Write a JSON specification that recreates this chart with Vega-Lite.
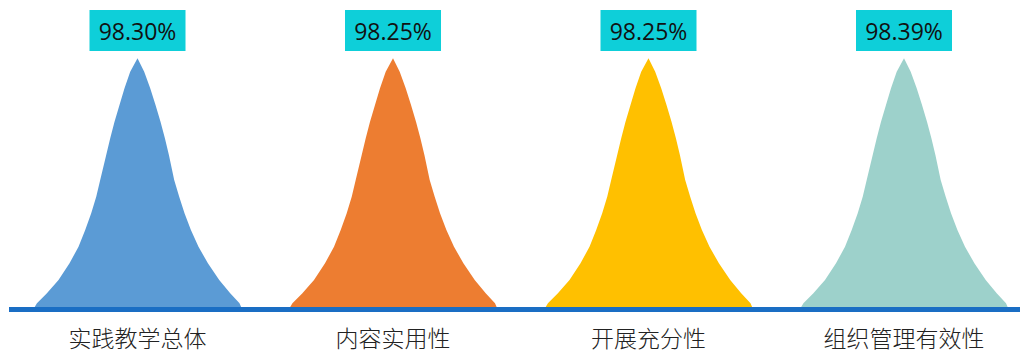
{
  "$schema": "https://vega.github.io/schema/vega-lite/v6.json",
  "width": 1020,
  "height": 351,
  "padding": 0,
  "autosize": {"type": "none"},
  "background": "white",
  "view": {"stroke": null},
  "config": {"axis": {"disable": true}},
  "datasets": {
    "curves": [
      {"cat": "实践教学总体", "x": 0.0918, "h": 0},
      {"cat": "实践教学总体", "x": 0.1063, "h": 2.47},
      {"cat": "实践教学总体", "x": 0.1454, "h": 6.45},
      {"cat": "实践教学总体", "x": 0.1908, "h": 11.74},
      {"cat": "实践教学总体", "x": 0.2339, "h": 18.39},
      {"cat": "实践教学总体", "x": 0.2691, "h": 25.0},
      {"cat": "实践教学总体", "x": 0.2953, "h": 31.65},
      {"cat": "实践教学总体", "x": 0.3188, "h": 38.3},
      {"cat": "实践教学总体", "x": 0.3384, "h": 44.9},
      {"cat": "实践教学总体", "x": 0.3540, "h": 51.55},
      {"cat": "实践教学总体", "x": 0.3775, "h": 61.5},
      {"cat": "实践教学总体", "x": 0.3932, "h": 68.15},
      {"cat": "实践教学总体", "x": 0.4100, "h": 74.76},
      {"cat": "实践教学总体", "x": 0.4295, "h": 81.41},
      {"cat": "实践教学总体", "x": 0.4491, "h": 88.06},
      {"cat": "实践教学总体", "x": 0.4714, "h": 94.67},
      {"cat": "实践教学总体", "x": 0.5, "h": 100},
      {"cat": "实践教学总体", "x": 0.5262, "h": 94.67},
      {"cat": "实践教学总体", "x": 0.5497, "h": 88.06},
      {"cat": "实践教学总体", "x": 0.5705, "h": 81.41},
      {"cat": "实践教学总体", "x": 0.5900, "h": 74.76},
      {"cat": "实践教学总体", "x": 0.6072, "h": 68.15},
      {"cat": "实践教学总体", "x": 0.6229, "h": 61.5},
      {"cat": "实践教学总体", "x": 0.6436, "h": 51.55},
      {"cat": "实践教学总体", "x": 0.6632, "h": 44.9},
      {"cat": "实践教学总体", "x": 0.6840, "h": 38.3},
      {"cat": "实践教学总体", "x": 0.7090, "h": 31.65},
      {"cat": "实践教学总体", "x": 0.7387, "h": 25.0},
      {"cat": "实践教学总体", "x": 0.7755, "h": 18.39},
      {"cat": "实践教学总体", "x": 0.8198, "h": 11.74},
      {"cat": "实践教学总体", "x": 0.8628, "h": 6.45},
      {"cat": "实践教学总体", "x": 0.8992, "h": 2.47},
      {"cat": "实践教学总体", "x": 0.9098, "h": 0},

      {"cat": "内容实用性", "x": 1.0918, "h": 0},
      {"cat": "内容实用性", "x": 1.1063, "h": 2.47},
      {"cat": "内容实用性", "x": 1.1454, "h": 6.45},
      {"cat": "内容实用性", "x": 1.1908, "h": 11.74},
      {"cat": "内容实用性", "x": 1.2339, "h": 18.39},
      {"cat": "内容实用性", "x": 1.2691, "h": 25.0},
      {"cat": "内容实用性", "x": 1.2953, "h": 31.65},
      {"cat": "内容实用性", "x": 1.3188, "h": 38.3},
      {"cat": "内容实用性", "x": 1.3384, "h": 44.9},
      {"cat": "内容实用性", "x": 1.3540, "h": 51.55},
      {"cat": "内容实用性", "x": 1.3775, "h": 61.5},
      {"cat": "内容实用性", "x": 1.3932, "h": 68.15},
      {"cat": "内容实用性", "x": 1.4100, "h": 74.76},
      {"cat": "内容实用性", "x": 1.4295, "h": 81.41},
      {"cat": "内容实用性", "x": 1.4491, "h": 88.06},
      {"cat": "内容实用性", "x": 1.4714, "h": 94.67},
      {"cat": "内容实用性", "x": 1.5, "h": 100},
      {"cat": "内容实用性", "x": 1.5262, "h": 94.67},
      {"cat": "内容实用性", "x": 1.5497, "h": 88.06},
      {"cat": "内容实用性", "x": 1.5705, "h": 81.41},
      {"cat": "内容实用性", "x": 1.5900, "h": 74.76},
      {"cat": "内容实用性", "x": 1.6072, "h": 68.15},
      {"cat": "内容实用性", "x": 1.6229, "h": 61.5},
      {"cat": "内容实用性", "x": 1.6436, "h": 51.55},
      {"cat": "内容实用性", "x": 1.6632, "h": 44.9},
      {"cat": "内容实用性", "x": 1.6840, "h": 38.3},
      {"cat": "内容实用性", "x": 1.7090, "h": 31.65},
      {"cat": "内容实用性", "x": 1.7387, "h": 25.0},
      {"cat": "内容实用性", "x": 1.7755, "h": 18.39},
      {"cat": "内容实用性", "x": 1.8198, "h": 11.74},
      {"cat": "内容实用性", "x": 1.8628, "h": 6.45},
      {"cat": "内容实用性", "x": 1.8992, "h": 2.47},
      {"cat": "内容实用性", "x": 1.9098, "h": 0},

      {"cat": "开展充分性", "x": 2.0918, "h": 0},
      {"cat": "开展充分性", "x": 2.1063, "h": 2.47},
      {"cat": "开展充分性", "x": 2.1454, "h": 6.45},
      {"cat": "开展充分性", "x": 2.1908, "h": 11.74},
      {"cat": "开展充分性", "x": 2.2339, "h": 18.39},
      {"cat": "开展充分性", "x": 2.2691, "h": 25.0},
      {"cat": "开展充分性", "x": 2.2953, "h": 31.65},
      {"cat": "开展充分性", "x": 2.3188, "h": 38.3},
      {"cat": "开展充分性", "x": 2.3384, "h": 44.9},
      {"cat": "开展充分性", "x": 2.3540, "h": 51.55},
      {"cat": "开展充分性", "x": 2.3775, "h": 61.5},
      {"cat": "开展充分性", "x": 2.3932, "h": 68.15},
      {"cat": "开展充分性", "x": 2.4100, "h": 74.76},
      {"cat": "开展充分性", "x": 2.4295, "h": 81.41},
      {"cat": "开展充分性", "x": 2.4491, "h": 88.06},
      {"cat": "开展充分性", "x": 2.4714, "h": 94.67},
      {"cat": "开展充分性", "x": 2.5, "h": 100},
      {"cat": "开展充分性", "x": 2.5262, "h": 94.67},
      {"cat": "开展充分性", "x": 2.5497, "h": 88.06},
      {"cat": "开展充分性", "x": 2.5705, "h": 81.41},
      {"cat": "开展充分性", "x": 2.5900, "h": 74.76},
      {"cat": "开展充分性", "x": 2.6072, "h": 68.15},
      {"cat": "开展充分性", "x": 2.6229, "h": 61.5},
      {"cat": "开展充分性", "x": 2.6436, "h": 51.55},
      {"cat": "开展充分性", "x": 2.6632, "h": 44.9},
      {"cat": "开展充分性", "x": 2.6840, "h": 38.3},
      {"cat": "开展充分性", "x": 2.7090, "h": 31.65},
      {"cat": "开展充分性", "x": 2.7387, "h": 25.0},
      {"cat": "开展充分性", "x": 2.7755, "h": 18.39},
      {"cat": "开展充分性", "x": 2.8198, "h": 11.74},
      {"cat": "开展充分性", "x": 2.8628, "h": 6.45},
      {"cat": "开展充分性", "x": 2.8992, "h": 2.47},
      {"cat": "开展充分性", "x": 2.9098, "h": 0},

      {"cat": "组织管理有效性", "x": 3.0918, "h": 0},
      {"cat": "组织管理有效性", "x": 3.1063, "h": 2.47},
      {"cat": "组织管理有效性", "x": 3.1454, "h": 6.45},
      {"cat": "组织管理有效性", "x": 3.1908, "h": 11.74},
      {"cat": "组织管理有效性", "x": 3.2339, "h": 18.39},
      {"cat": "组织管理有效性", "x": 3.2691, "h": 25.0},
      {"cat": "组织管理有效性", "x": 3.2953, "h": 31.65},
      {"cat": "组织管理有效性", "x": 3.3188, "h": 38.3},
      {"cat": "组织管理有效性", "x": 3.3384, "h": 44.9},
      {"cat": "组织管理有效性", "x": 3.3540, "h": 51.55},
      {"cat": "组织管理有效性", "x": 3.3775, "h": 61.5},
      {"cat": "组织管理有效性", "x": 3.3932, "h": 68.15},
      {"cat": "组织管理有效性", "x": 3.4100, "h": 74.76},
      {"cat": "组织管理有效性", "x": 3.4295, "h": 81.41},
      {"cat": "组织管理有效性", "x": 3.4491, "h": 88.06},
      {"cat": "组织管理有效性", "x": 3.4714, "h": 94.67},
      {"cat": "组织管理有效性", "x": 3.5, "h": 100},
      {"cat": "组织管理有效性", "x": 3.5262, "h": 94.67},
      {"cat": "组织管理有效性", "x": 3.5497, "h": 88.06},
      {"cat": "组织管理有效性", "x": 3.5705, "h": 81.41},
      {"cat": "组织管理有效性", "x": 3.5900, "h": 74.76},
      {"cat": "组织管理有效性", "x": 3.6072, "h": 68.15},
      {"cat": "组织管理有效性", "x": 3.6229, "h": 61.5},
      {"cat": "组织管理有效性", "x": 3.6436, "h": 51.55},
      {"cat": "组织管理有效性", "x": 3.6632, "h": 44.9},
      {"cat": "组织管理有效性", "x": 3.6840, "h": 38.3},
      {"cat": "组织管理有效性", "x": 3.7090, "h": 31.65},
      {"cat": "组织管理有效性", "x": 3.7387, "h": 25.0},
      {"cat": "组织管理有效性", "x": 3.7755, "h": 18.39},
      {"cat": "组织管理有效性", "x": 3.8198, "h": 11.74},
      {"cat": "组织管理有效性", "x": 3.8628, "h": 6.45},
      {"cat": "组织管理有效性", "x": 3.8992, "h": 2.47},
      {"cat": "组织管理有效性", "x": 3.9098, "h": 0}
    ],
    "labels": [
      {"cat": "实践教学总体", "pct": "98.30%"},
      {"cat": "内容实用性", "pct": "98.25%"},
      {"cat": "开展充分性", "pct": "98.25%"},
      {"cat": "组织管理有效性", "pct": "98.39%"}
    ]
  },
  "data": {"name": "curves"},
  "layer": [
    {
      "mark": {"type": "area", "interpolate": "linear"},
      "encoding": {
        "x": {"field": "x", "type": "quantitative", "scale": {"domain": [-0.0382, 3.954], "nice": false, "zero": false}},
        "y": {"field": "h", "type": "quantitative", "scale": {"domain": [-16.52, 123.21], "nice": false, "zero": false}},
        "y2": {"datum": 0},
        "color": {
          "field": "cat", "type": "nominal",
          "scale": {"domain": ["实践教学总体", "内容实用性", "开展充分性", "组织管理有效性"], "range": ["#5B9BD5", "#ED7D31", "#FFC000", "#9DD1CB"]},
          "legend": null
        }
      }
    },
    {
      "mark": {"type": "rule", "color": "#1A6EC4", "strokeWidth": 4},
      "encoding": {
        "x": {"datum": 0, "type": "quantitative"},
        "x2": {"datum": 4},
        "y": {"datum": 0, "type": "quantitative"}
      }
    },
    {
      "transform": [
        {"filter": "datum.h == 100"},
        {"lookup": "cat", "from": {"data": {"name": "labels"}, "key": "cat", "fields": ["pct"]}}
      ],
      "layer": [
        {
          "mark": {"type": "rect", "color": "#0ECFD9", "xOffset": -48, "x2Offset": 48},
          "encoding": {
            "x": {"field": "x", "type": "quantitative"},
            "x2": {"field": "x"},
            "y": {"datum": 119.23, "type": "quantitative"},
            "y2": {"datum": 102.91}
          }
        },
        {
          "mark": {"type": "text", "font": "Open Sans", "fontSize": 23, "color": "#111111", "align": "center", "baseline": "alphabetic"},
          "encoding": {
            "x": {"field": "x", "type": "quantitative"},
            "y": {"datum": 107.28, "type": "quantitative"},
            "text": {"field": "pct"}
          }
        },
        {
          "mark": {"type": "text", "font": "Noto Sans CJK SC", "fontSize": 23, "fontWeight": 300, "color": "#222222", "align": "center", "baseline": "middle"},
          "encoding": {
            "x": {"field": "x", "type": "quantitative"},
            "y": {"datum": -12.0, "type": "quantitative"},
            "text": {"field": "cat"}
          }
        }
      ]
    }
  ]
}
